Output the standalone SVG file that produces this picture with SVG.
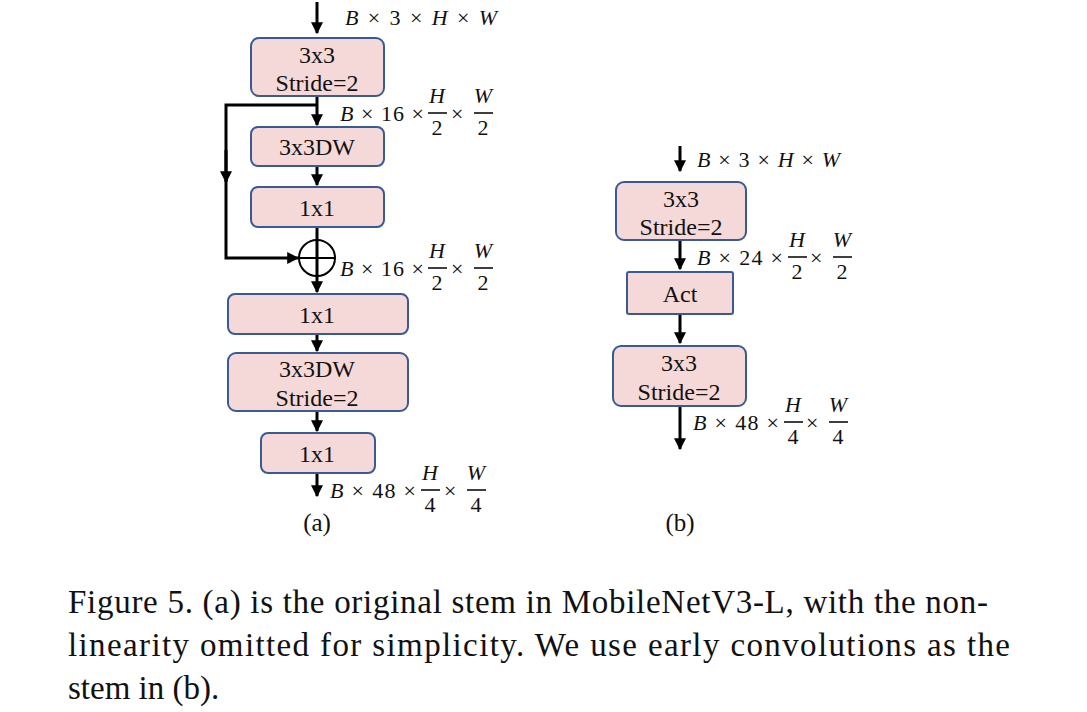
<svg xmlns="http://www.w3.org/2000/svg" width="1087" height="712" viewBox="0 0 1087 712">
<style>
.b{fill:#f5d9d9;stroke:#3a5a96;stroke-width:2}
.t{font-family:"Liberation Serif",serif;font-size:24px;text-anchor:middle;fill:#111}
.m{font-family:"Liberation Serif",serif;font-size:22px;fill:#111}
.i{font-style:italic}
.f{font-family:"Liberation Serif",serif;font-size:22px;text-anchor:middle;fill:#111}
.l{stroke:#000;stroke-width:3;fill:none}
.cap{font-family:"Liberation Serif",serif;font-size:33px;fill:#111}
</style>
<defs><marker id="a" viewBox="0 0 10 10" refX="9" refY="5" markerWidth="4" markerHeight="4" orient="auto"><path d="M0,0L10,5L0,10z" fill="#000"/></marker></defs>
<rect width="1087" height="712" fill="#fff"/>
<g id="connectors">
<path class="l" d="M317,2V33" marker-end="url(#a)"/>
<path class="l" d="M317,96V125" marker-end="url(#a)"/>
<path class="l" d="M317,105H226V258H298" marker-end="url(#a)"/>
<path class="l" d="M226,150V182" marker-end="url(#a)"/>
<path class="l" d="M317,166V185" marker-end="url(#a)"/>
<path class="l" d="M317,227V276"/>
<path class="l" d="M317,276V292" marker-end="url(#a)"/>
<path class="l" d="M317,334V351" marker-end="url(#a)"/>
<path class="l" d="M317,411V431" marker-end="url(#a)"/>
<path class="l" d="M317,473V496" marker-end="url(#a)"/>
<path class="l" d="M680,146V171" marker-end="url(#a)"/>
<path class="l" d="M680,240V269" marker-end="url(#a)"/>
<path class="l" d="M680,314V343" marker-end="url(#a)"/>
<path class="l" d="M680,406V449" marker-end="url(#a)"/>
</g>
<g id="a1"><rect class="b" x="251" y="38" width="133" height="58" rx="8"/><text class="t" x="317" y="63">3x3</text><text class="t" x="317" y="91">Stride=2</text></g>
<g id="a2"><rect class="b" x="251" y="127" width="133" height="39" rx="7"/><text class="t" x="317" y="155">3x3DW</text></g>
<g id="a3"><rect class="b" x="251" y="187" width="133" height="40" rx="7"/><text class="t" x="317" y="216">1x1</text></g>
<g id="add"><circle cx="317" cy="258" r="18" fill="none" stroke="#000" stroke-width="2"/><path d="M299,258H335" stroke="#000" stroke-width="2"/></g>
<g id="a4"><rect class="b" x="228" y="294" width="180" height="40" rx="7"/><text class="t" x="317" y="323">1x1</text></g>
<g id="a5"><rect class="b" x="228" y="353" width="180" height="58" rx="8"/><text class="t" x="317" y="377">3x3DW</text><text class="t" x="317" y="406">Stride=2</text></g>
<g id="a6"><rect class="b" x="261" y="433" width="114" height="40" rx="7"/><text class="t" x="317" y="462">1x1</text></g>
<g id="b1"><rect class="b" x="616" y="182" width="130" height="58" rx="8"/><text class="t" x="681" y="207">3x3</text><text class="t" x="681" y="235">Stride=2</text></g>
<g id="b2"><rect class="b" x="627" y="272" width="106" height="42" rx="2"/><text class="t" x="680" y="302">Act</text></g>
<g id="b3"><rect class="b" x="613" y="346" width="133" height="60" rx="8"/><text class="t" x="679" y="371">3x3</text><text class="t" x="679" y="400">Stride=2</text></g>
<g id="labels">
<text class="m" x="345" y="25" textLength="152"><tspan class="i">B</tspan> × 3 × <tspan class="i">H</tspan> × <tspan class="i">W</tspan></text>
<text class="m" x="340" y="121" textLength="84"><tspan class="i">B</tspan> × 16 ×</text><text class="f i" x="437" y="103">H</text><path d="M428,113H447M474,113H493" stroke="#000" stroke-width="1.5"/><text class="f" x="437" y="135">2</text><text class="m" x="451" y="121">×</text><text class="f i" x="483" y="103">W</text><text class="f" x="483" y="135">2</text>
<text class="m" x="340" y="276" textLength="84"><tspan class="i">B</tspan> × 16 ×</text><text class="f i" x="437" y="258">H</text><path d="M428,268H447M474,268H493" stroke="#000" stroke-width="1.5"/><text class="f" x="437" y="290">2</text><text class="m" x="451" y="276">×</text><text class="f i" x="483" y="258">W</text><text class="f" x="483" y="290">2</text>
<text class="m" x="330" y="498" textLength="86"><tspan class="i">B</tspan> × 48 ×</text><text class="f i" x="430" y="480">H</text><path d="M421,490H440M467,490H486" stroke="#000" stroke-width="1.5"/><text class="f" x="430" y="512">4</text><text class="m" x="444" y="498">×</text><text class="f i" x="476" y="480">W</text><text class="f" x="476" y="512">4</text>
<text class="t" x="317" y="531" style="font-size:25px">(a)</text>
<text class="m" x="697" y="167" textLength="143"><tspan class="i">B</tspan> × 3 × <tspan class="i">H</tspan> × <tspan class="i">W</tspan></text>
<text class="m" x="697" y="265" textLength="86"><tspan class="i">B</tspan> × 24 ×</text><text class="f i" x="797" y="247">H</text><path d="M788,257H807M833,257H852" stroke="#000" stroke-width="1.5"/><text class="f" x="797" y="279">2</text><text class="m" x="810" y="265">×</text><text class="f i" x="842" y="247">W</text><text class="f" x="842" y="279">2</text>
<text class="m" x="693" y="430" textLength="86"><tspan class="i">B</tspan> × 48 ×</text><text class="f i" x="793" y="412">H</text><path d="M784,422H803M829,422H848" stroke="#000" stroke-width="1.5"/><text class="f" x="793" y="444">4</text><text class="m" x="806" y="430">×</text><text class="f i" x="838" y="412">W</text><text class="f" x="838" y="444">4</text>
<text class="t" x="680" y="531" style="font-size:25px">(b)</text>
</g>
<text class="cap" x="68" y="613" textLength="920">Figure 5. (a) is the original stem in MobileNetV3-L, with the non-</text>
<text class="cap" x="68" y="656" textLength="942">linearity omitted for simplicity.  We use early convolutions as the</text>
<text class="cap" x="68" y="699">stem in (b).</text>
</svg>
